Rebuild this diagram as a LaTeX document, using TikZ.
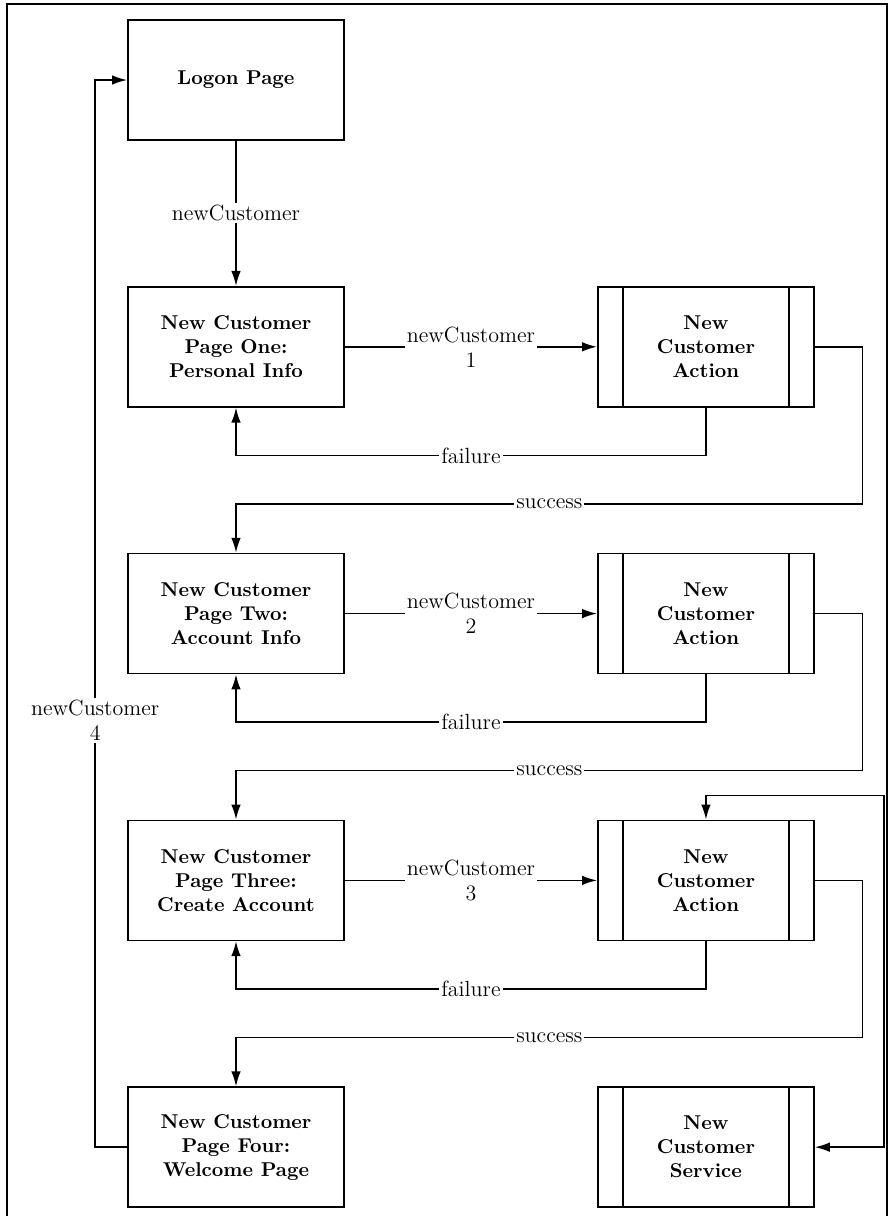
\documentclass[tikz,border=0pt]{standalone}
\usepackage{tikz}
\usetikzlibrary{arrows.meta,positioning,calc}

\begin{document}
\begin{tikzpicture}[>={Latex[length=7.5pt,width=4.8pt]},
  pg/.style={draw,thick,minimum width=3.8cm,minimum height=2.11cm,align=center,font=\bfseries},
  act/.style={pg,path picture={
      \draw[thick] ([xshift=0.44cm]path picture bounding box.north west) -- ([xshift=0.44cm]path picture bounding box.south west);
      \draw[thick] ([xshift=-0.44cm]path picture bounding box.north east) -- ([xshift=-0.44cm]path picture bounding box.south east);}},
  lab/.style={font=\fontsize{11}{12.5}\selectfont,fill=white,inner sep=1pt,align=center},
  every node/.style={inner sep=2pt}]
\useasboundingbox (-4.147,1.406) rectangle (11.492,-19.962);
\draw[semithick] (-4.024,1.336) rectangle (11.44,-19.99);
\node[pg] (logon) {Logon Page};
\node[pg,below=2.55cm of logon] (p1) {New Customer\\Page One:\\Personal Info};
\node[act,right=4.43cm of p1] (a1) {New\\Customer\\Action};
\node[pg,below=2.55cm of p1] (p2) {New Customer\\Page Two:\\Account Info};
\node[act,right=4.43cm of p2] (a2) {New\\Customer\\Action};
\node[pg,below=2.55cm of p2] (p3) {New Customer\\Page Three:\\Create Account};
\node[act,right=4.43cm of p3] (a3) {New\\Customer\\Action};
\node[pg,below=2.55cm of p3] (p4) {New Customer\\Page Four:\\Welcome Page};
\node[act,below=2.55cm of a3] (svc) {New\\Customer\\Service};
\draw[->,thick] (logon) -- node[lab] {newCustomer} (p1);
\foreach \i in {1,2,3}{
  \draw[->,thick] (p\i) -- node[lab] {newCustomer\\\i} (a\i);
  \draw[->,thick] (a\i.south) -- ++(0,-0.84) -| node[lab,pos=0.25] {failure} (p\i.south);
}
\foreach \i/\j in {1/2,2/3,3/4}
  \draw[->,thick] (a\i.east) -- ++(0.84,0) -- ++(0,-2.76) -| node[lab,pos=0.25] {success} (p\j.north);
\coordinate[right=1.21cm of svc.east] (svcR);
\draw[<->,thick] (a3.north) -- ++(0,0.42) -| (svcR) -- (svc.east);
\draw[->,thick] (p4.west) -- ++(-0.56,0) |- node[lab,pos=0.2] {newCustomer\\4} (logon.west);
\end{tikzpicture}
\end{document}
